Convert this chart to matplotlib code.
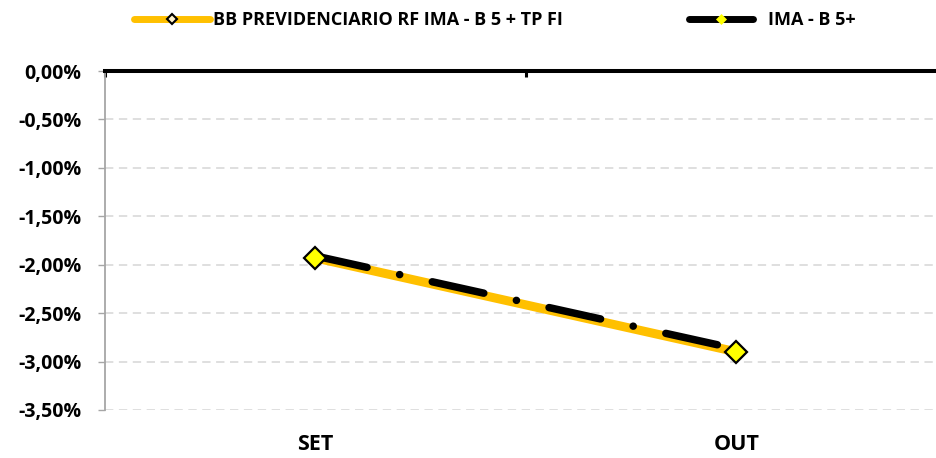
import matplotlib
matplotlib.use('Agg')
import matplotlib.pyplot as plt
from matplotlib.lines import Line2D

# data
months = ['SET', 'OUT']
bb_fund = [-1.93, -2.90]      # BB PREVIDENCIARIO RF IMA - B 5 + TP FI
ima_b5 = [-1.91, -2.87]       # IMA - B 5+
y_ticks = [0.0, -0.5, -1.0, -1.5, -2.0, -2.5, -3.0, -3.5]

GOLD = '#FFC000'
YELLOW = '#FFFF00'

plt.rcParams['font.family'] = ['Open Sans', 'DejaVu Sans']
plt.rcParams['font.weight'] = 'bold'
plt.rcParams['lines.scale_dashes'] = False

W, H = 937, 458
fig = plt.figure(figsize=(W / 100, H / 100), dpi=100)
ax = fig.add_axes([105 / W, 1 - 410 / H, (947 - 105) / W, (410 - 71) / H])

x = list(range(len(months)))

ax.plot(x, bb_fund, color=GOLD, lw=6.5, solid_capstyle='butt', zorder=3)
ax.plot(x, ima_b5, color='black', lw=5.4, linestyle=(0, (38, 24, 0.1, 24)),
        dash_capstyle='round', zorder=4)
ax.plot(x, bb_fund, ls='none', marker='D', ms=11.5, mfc=YELLOW, mec='black',
        mew=1.6, zorder=5)

ax.set_xlim(-0.5, 1.5)
ax.set_ylim(-3.5, 0)

ax.set_yticks(y_ticks)
ax.set_yticklabels([('%.2f%%' % v).replace('.', ',') for v in y_ticks])
ax.tick_params(axis='y', length=5, width=1, color='#a6a6a6', pad=12,
               labelsize=14)

ax.set_xticks(x)
ax.set_xticklabels(months)
ax.tick_params(axis='x', which='major', length=0, pad=17, labelsize=15.5)
ax.set_xticks([-0.5, 0.5, 1.5], minor=True)
ax.tick_params(axis='x', which='minor', bottom=False, top=True, direction='in',
               length=4, width=2.2, color='black')

ax.grid(axis='y', color='#d9d9d9', lw=1.2, linestyle=(0, (6, 4)))
ax.set_axisbelow(True)

for s in ['right', 'bottom']:
    ax.spines[s].set_visible(False)
ax.spines['top'].set_linewidth(2.9)
ax.spines['top'].set_color('black')
ax.spines['top'].set_zorder(6)
ax.spines['left'].set_color('#a6a6a6')
ax.spines['left'].set_linewidth(1.3)

h_bb = Line2D([], [], color=GOLD, lw=5, solid_capstyle='round', marker='D',
              ms=5.5, mfc='#FFF2CC', mec='black', mew=1.5)
h_ima = Line2D([], [], color='black', lw=5, solid_capstyle='round', marker='D',
               ms=5, mfc=YELLOW, mec=YELLOW, mew=0.5)

legend_y = 1 - 20 / H
fig.legend([h_bb], ['BB PREVIDENCIARIO RF IMA - B 5 + TP FI'], loc='center left',
           bbox_to_anchor=(134 / W, legend_y), frameon=False, borderpad=0,
           borderaxespad=0, handlelength=4.2, handletextpad=0.17,
           prop={'size': 13, 'weight': 'bold'})
fig.legend([h_ima], ['IMA - B 5+'], loc='center left',
           bbox_to_anchor=(689 / W, legend_y), frameon=False, borderpad=0,
           borderaxespad=0, handlelength=3.55, handletextpad=0.8,
           prop={'size': 13, 'weight': 'bold'})

fig.savefig('out.png', dpi=100)
